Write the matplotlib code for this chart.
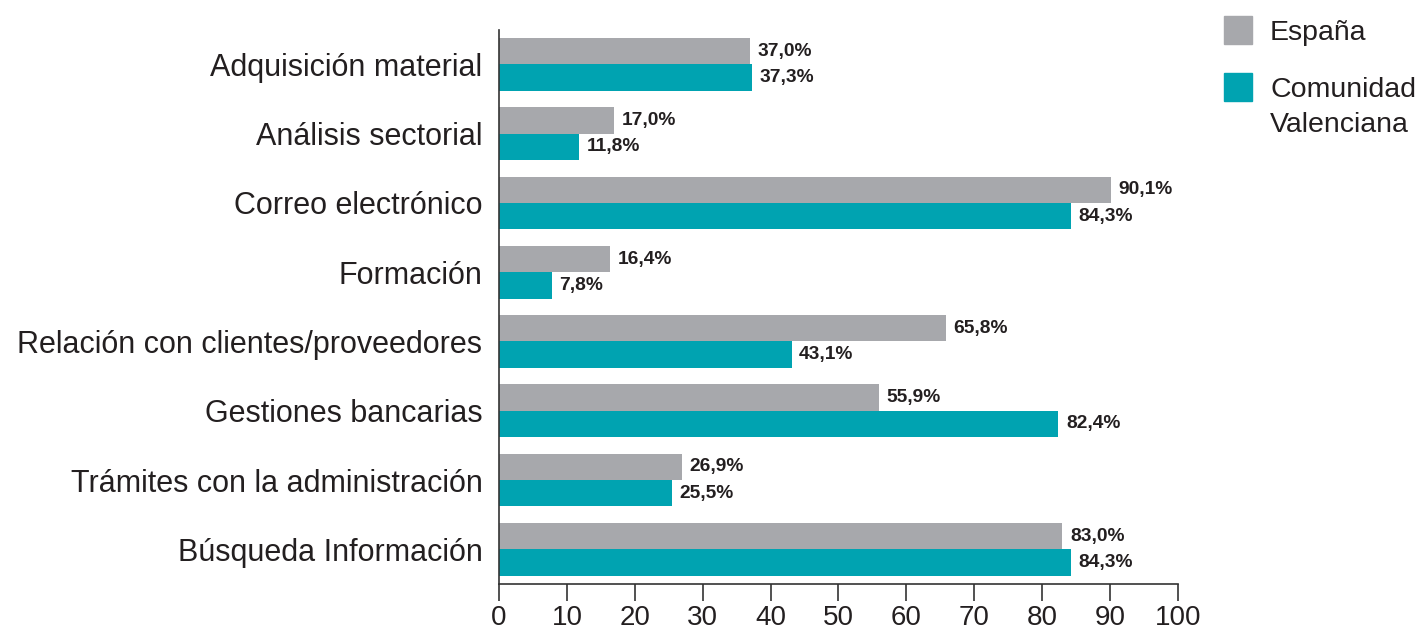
import matplotlib.pyplot as plt
from matplotlib.patches import Rectangle
import numpy as np

categories = [
    "Adquisición material",
    "Análisis sectorial",
    "Correo electrónico",
    "Formación",
    "Relación con clientes/proveedores",
    "Gestiones bancarias",
    "Trámites con la administración",
    "Búsqueda Información",
]
espana = [37.0, 17.0, 90.1, 16.4, 65.8, 55.9, 26.9, 83.0]
valenciana = [37.3, 11.8, 84.3, 7.8, 43.1, 82.4, 25.5, 84.3]
series_names = ["España", "Comunidad\nValenciana"]

GRAY = "#a7a8ac"
TEAL = "#00a3b1"
TXT = "#231f20"

plt.rcParams['font.family'] = ['Liberation Sans', 'DejaVu Sans']

fig = plt.figure(figsize=(14.26, 6.32), dpi=100)
ax = fig.add_axes([0.35, 0.076, 0.476, 0.877])

y = np.arange(len(categories))
h = 0.38
ax.barh(y - h / 2, espana, height=h, color=GRAY)
ax.barh(y + h / 2, valenciana, height=h, color=TEAL)

for yi, v in zip(y - h / 2, espana):
    ax.text(v + 1.1, yi, f"{v:.1f}%".replace(".", ","), va="center", ha="left",
            fontsize=13.8, fontweight="bold", color=TXT)
for yi, v in zip(y + h / 2, valenciana):
    ax.text(v + 1.1, yi, f"{v:.1f}%".replace(".", ","), va="center", ha="left",
            fontsize=13.8, fontweight="bold", color=TXT)

ax.set_ylim(len(categories) - 0.5, -0.5)
ax.set_xlim(0, 100)
ax.set_xticks(range(0, 101, 10))
ax.set_yticks(y)
ax.set_yticklabels(categories)
ax.tick_params(axis="y", length=0, pad=12, labelsize=22, labelcolor=TXT)
ax.tick_params(axis="x", length=12, width=1.2, color="#333333", pad=3,
               labelsize=20, labelcolor=TXT)

for s in ["top", "right"]:
    ax.spines[s].set_visible(False)
ax.spines["left"].set_color("#333333")
ax.spines["bottom"].set_color("#333333")
ax.spines["left"].set_linewidth(1.2)
ax.spines["bottom"].set_linewidth(1.2)

# legend
W, H = 1426, 632
for (top, col, name) in [(16, GRAY, series_names[0]), (73, TEAL, series_names[1])]:
    fig.add_artist(Rectangle((1224 / W, 1 - (top + 28) / H), 28 / W, 28 / H,
                             transform=fig.transFigure, color=col))
    fig.text(1270 / W, 1 - (top + 4) / H, name, ha="left", va="top",
             fontsize=20.5, color=TXT, linespacing=1.45)

fig.savefig("out.png", dpi=100)
